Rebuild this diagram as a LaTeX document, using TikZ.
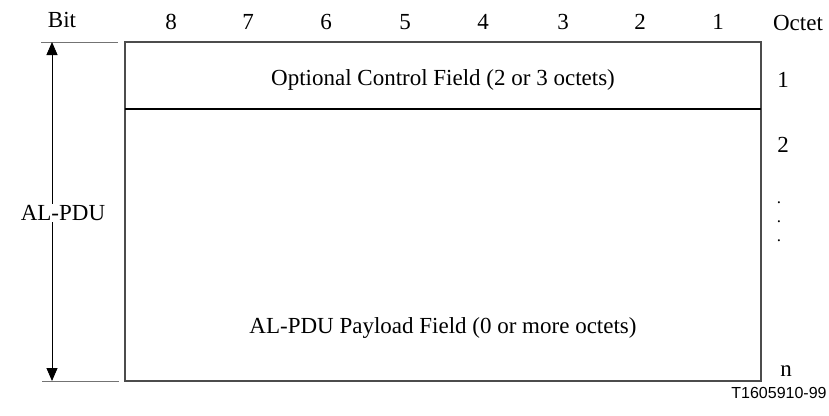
\documentclass[tikz,border=0pt]{standalone}
\usepackage{fontspec}
\setmainfont{Liberation Serif}
\newfontfamily\figfont{Liberation Sans}
\usetikzlibrary{positioning}
\usetikzlibrary{arrows.meta}
\tikzset{
    frame/.style = {draw=black!70, line width=1.3pt},
    divider/.style = {draw=black, line width=1.8pt},
    extline/.style = {draw=black!55, line width=1pt},
    spanarrow/.style = {{Triangle[length=13pt,width=11pt]}-{Triangle[length=13pt,width=11pt]}, line width=0.9pt},
    lbl/.style = {inner sep=0pt, font=\fontsize{23}{27}\selectfont},
    dotlbl/.style = {inner sep=0pt, align=center, font=\fontsize{17}{19}\selectfont},
    tagnode/.style = {inner sep=0pt, font=\figfont\fontsize{16}{19}\selectfont}
}
\begin{document}
\begin{tikzpicture}[x=1pt,y=-1pt]
\useasboundingbox (0,0) rectangle (829,415);
%
% bit numbers
\node[lbl] at (62,20) (bit) {Bit};
\node[lbl] at (171,22) (b8) {8};
\node[lbl] at (248,22) (b7) {7};
\node[lbl] at (326,22) (b6) {6};
\node[lbl] at (405,22) (b5) {5};
\node[lbl] at (483,22) (b4) {4};
\node[lbl] at (563,22) (b3) {3};
\node[lbl] at (640,22) (b2) {2};
\node[lbl] at (718,22) (b1) {1};
\node[lbl] at (798,23) (octet) {Octet};
%
% frame
\draw[frame] (125,42) rectangle (761,381);
\draw[divider] (125,109) -- (761,109);
\node[lbl] at (443,80) (ctrl) {Optional Control Field (2 or 3 octets)};
\node[lbl] at (443,328) (payload) {AL-PDU Payload Field (0 or more octets)};
%
% octet numbers
\node[lbl] at (783,80) (o1) {1};
\node[lbl] at (783,145) (o2) {2};
\node[dotlbl] at (779,222) (dots) {.\\.\\.};
\node[lbl] at (786,371) (on) {n};
%
% length arrow
\coordinate (ttop) at (52,42);
\coordinate (tbot) at (52,381);
\draw[extline] (41,42) -- (118,42);
\draw[extline] (42,381) -- (119,381);
\draw[spanarrow] (ttop) -- (tbot);
\node[lbl, fill=white, inner sep=1pt] at (63,213) (alpdu) {AL-PDU};
%
\node[tagnode] at (779,393) (tag) {T1605910-99};
\end{tikzpicture}
\end{document}
